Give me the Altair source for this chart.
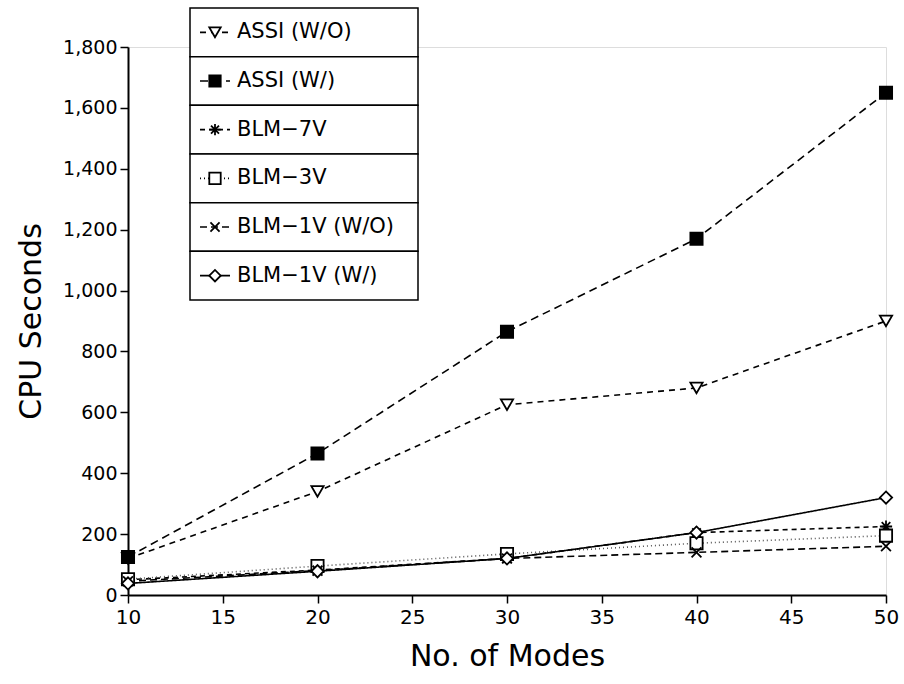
import altair as alt
import pandas as pd

# ---- data ----
modes = [10, 20, 30, 40, 50]
series_names = ["ASSI (W/O)", "ASSI (W/)", "BLM-7V", "BLM-3V", "BLM-1V (W/O)", "BLM-1V (W/)"]
legend_labels = ["ASSI (W/O)", "ASSI (W/)", "BLM\u22127V", "BLM\u22123V", "BLM\u22121V (W/O)", "BLM\u22121V (W/)"]
assi_wo = [120, 340, 625, 680, 900]
assi_w = [125, 465, 865, 1170, 1650]
blm_7v = [50, 82, 120, 205, 225]
blm_3v = [52, 95, 135, 170, 195]
blm_1v_wo = [45, 80, 120, 140, 160]
blm_1v_w = [38, 78, 120, 205, 320]
values = [assi_wo, assi_w, blm_7v, blm_3v, blm_1v_wo, blm_1v_w]
x_ticks = [10, 15, 20, 25, 30, 35, 40, 45, 50]
y_ticks = [0, 200, 400, 600, 800, 1000, 1200, 1400, 1600, 1800]

rows = []
for name, vals in zip(series_names, values):
    for m, v in zip(modes, vals):
        rows.append({"series": name, "modes": m, "cpu": v})
df = pd.DataFrame(rows)
leg = pd.DataFrame({"series": series_names, "label": legend_labels})

# ---- styles ----
asterisk = "M-1,0L1,0M0,-1L0,1M-0.7,-0.7L0.7,0.7M-0.7,0.7L0.7,-0.7"
xmark = "M-0.8,-0.8L0.8,0.8M-0.8,0.8L0.8,-0.8"
shape_scale = alt.Scale(domain=series_names,
                        range=["triangle-down", "square", asterisk, "square", xmark, "diamond"])
fill_scale = alt.Scale(domain=series_names,
                       range=["white", "black", "white", "white", "white", "white"])
dash_scale = alt.Scale(domain=series_names,
                       range=[[6, 5], [8, 5], [5, 4], [1, 3], [7, 4], [1, 0]])
color_scale = alt.Scale(domain=series_names,
                        range=["black", "black", "black", "#555555", "black", "black"])

FONT = "DejaVu Sans"

x_enc = alt.X("modes:Q", scale=alt.Scale(domain=[10, 50], nice=False),
              axis=alt.Axis(values=x_ticks, format="d", title="No. of Modes", grid=False,
                            tickSize=8, tickWidth=1.5, domainWidth=2, labelFlush=False,
                            labelFontSize=20, titleFontSize=30, labelPadding=4,
                            titlePadding=14, labelFont=FONT, titleFont=FONT,
                            titleFontWeight="normal", labelColor="black",
                            titleColor="black", domainColor="black", tickColor="black"))
y_enc = alt.Y("cpu:Q", scale=alt.Scale(domain=[0, 1800], nice=False),
              axis=alt.Axis(values=y_ticks, format=",d", title="CPU Seconds", grid=False,
                            tickSize=8, tickWidth=1.5, domainWidth=2, labelFlush=False,
                            labelFontSize=19, titleFontSize=30, labelPadding=3,
                            titlePadding=16, labelFont=FONT, titleFont=FONT,
                            titleFontWeight="normal", labelColor="black",
                            titleColor="black", domainColor="black", tickColor="black"))

base = alt.Chart(df)
lines = base.mark_line(strokeWidth=1.6).encode(
    x=x_enc, y=y_enc,
    detail="series:N",
    strokeDash=alt.StrokeDash("series:N", scale=dash_scale, legend=None),
    color=alt.Color("series:N", scale=color_scale, legend=None),
)
points = base.mark_point(size=150, strokeWidth=1.8, opacity=1, stroke="black").encode(
    x="modes:Q", y="cpu:Q",
    shape=alt.Shape("series:N", scale=shape_scale, legend=None),
    fill=alt.Fill("series:N", scale=fill_scale, legend=None),
)

# ---- custom boxed legend ----
leg_scale = alt.Scale(domain=series_names, range=[-39, 253], paddingInner=0, paddingOuter=0)
leg_y = alt.Y("series:N", scale=leg_scale, axis=None)
lbase = alt.Chart(leg)
lrect = lbase.mark_rect(fill="white", stroke="black", strokeWidth=1.5).encode(
    x=alt.value(62), x2=alt.value(290), y=leg_y)
lrule = lbase.mark_rule(strokeWidth=1.6).encode(
    x=alt.value(72), x2=alt.value(102),
    y=alt.Y("series:N", scale=leg_scale, axis=None, bandPosition=0.5),
    strokeDash=alt.StrokeDash("series:N", scale=dash_scale, legend=None),
    color=alt.value("black"))
lpts = lbase.mark_point(size=130, strokeWidth=1.8, opacity=1, stroke="black").encode(
    x=alt.value(87), y=leg_y,
    shape=alt.Shape("series:N", scale=shape_scale, legend=None),
    fill=alt.Fill("series:N", scale=fill_scale, legend=None))
ltext = lbase.mark_text(align="left", baseline="middle", fontSize=21, font=FONT,
                        color="black").encode(
    x=alt.value(109), y=leg_y, text="label:N")
legend_layer = alt.layer(lrect, lrule, lpts, ltext)

main = alt.layer(lines, points)
chart = alt.layer(main, legend_layer).resolve_scale(y="independent").properties(
    width=758, height=548,
    autosize=alt.AutoSizeParams(type="none"),
    padding={"left": 128, "top": 47, "right": 18, "bottom": 89},
).configure_view(strokeWidth=0).configure(background="white")

chart.save("out.html", embed_options={"renderer": "svg", "actions": False})
